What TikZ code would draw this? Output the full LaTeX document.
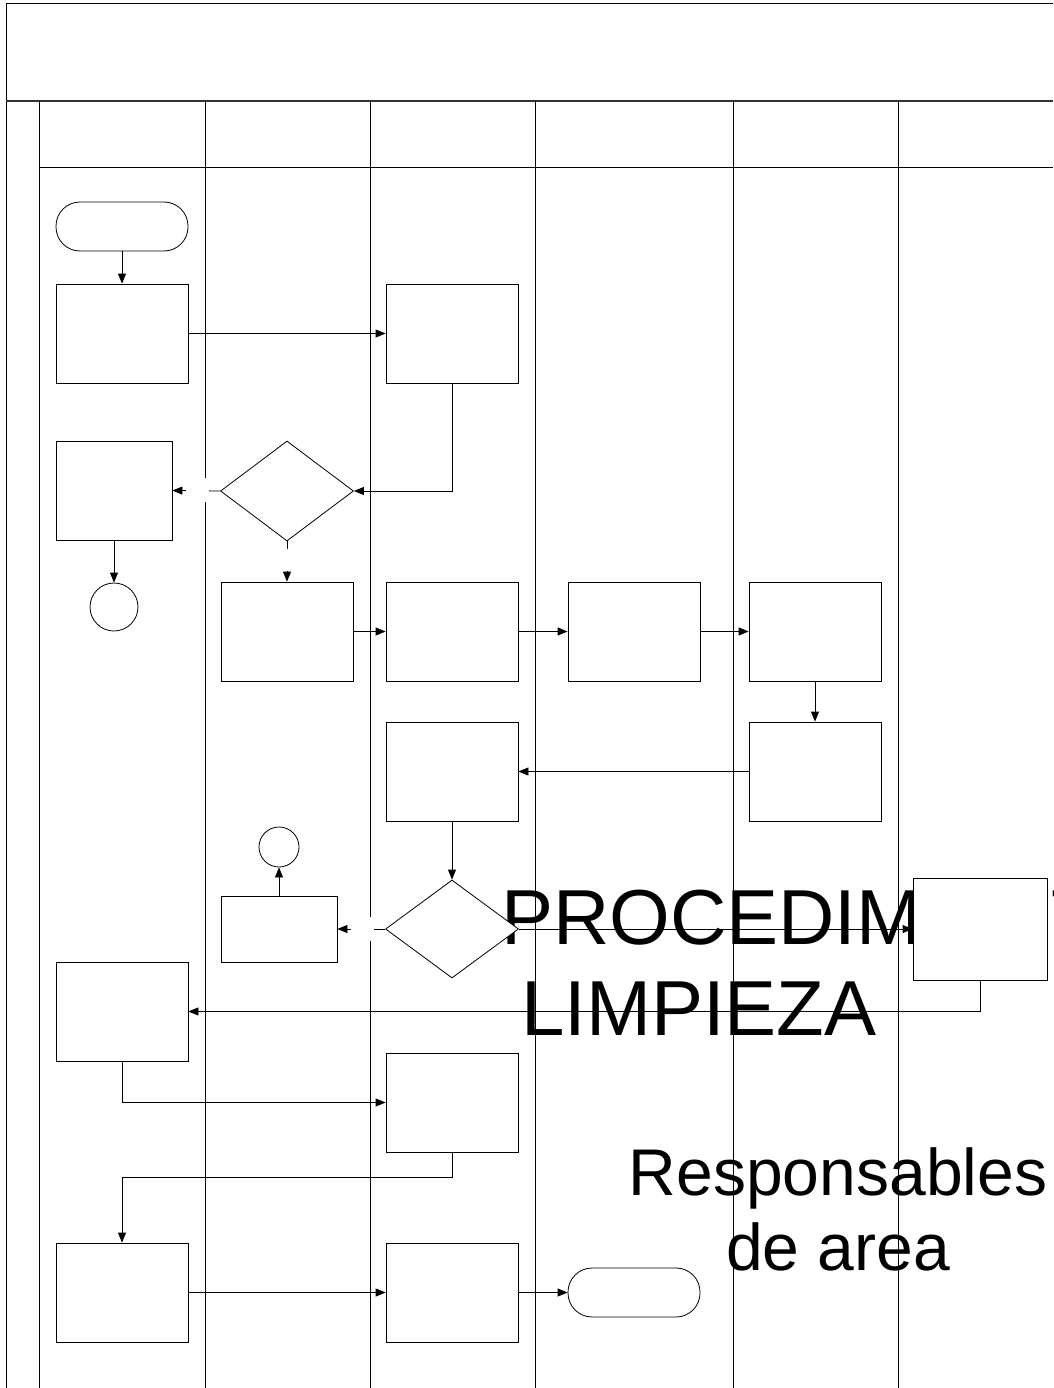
\documentclass[tikz,border=0pt]{standalone}
\usepackage{fontspec}
\setmainfont{Liberation Sans}
\usetikzlibrary{shapes.geometric,arrows.meta}
\begin{document}
\begin{tikzpicture}[x=1pt,y=-1pt,
  lane/.style={line width=1pt,black},
  proc/.style={draw,fill=white,line width=0.8pt,minimum width=132pt,minimum height=99pt,inner sep=0pt},
  sproc/.style={proc,minimum width=116pt},
  dec/.style={draw,fill=white,diamond,line width=0.8pt,minimum width=133pt,minimum height=100pt,inner sep=0pt},
  term/.style={draw,fill=white,line width=0.8pt,rounded corners=24pt,minimum width=132pt,minimum height=49pt,inner sep=0pt},
  conn/.style={draw,fill=white,circle,line width=0.8pt,inner sep=0pt},
  arr/.style={line width=0.8pt,-{Triangle[length=10pt,width=8pt]}},
  gap/.style={fill=white,draw=none},
  big/.style={inner sep=0pt,font=\fontsize{78}{94}\selectfont},
  mid/.style={inner sep=0pt,font=\fontsize{66}{79}\selectfont}]
\useasboundingbox (0,0) rectangle (1053,1388);
% frame and lanes
\draw[lane] (6,1388) -- (6,4) -- (1053,4);
\draw[line width=2.2pt,black!80] (6,101) -- (1053,101);
\draw[lane] (39,168) -- (1053,168);
\foreach \xx in {39,205,370,535,733,898} \draw[lane] (\xx,101) -- (\xx,1388);
% big texts
\node[big,anchor=base west] (t1) at (501,944) {PROCEDIMIENTO DE};
\node[big,anchor=base west] (t2) at (521,1035) {LIMPIEZA};
\node[mid,anchor=base] (t3) at (838,1195) {Responsables};
\node[mid,anchor=base] (t4) at (838,1270) {de area};
% nodes
\node[term] (start) at (122,226.5) {};
\node[proc] (A1) at (122,333.5) {};
\node[proc] (C1) at (452,333.5) {};
\node[sproc] (A2) at (114,490.5) {};
\node[dec] (D1) at (287,491) {};
\node[conn,minimum size=48pt] (CA) at (114,607) {};
\node[proc] (B1) at (287,631.5) {};
\node[proc] (C2) at (452,631.5) {};
\node[proc] (Dx) at (634,631.5) {};
\node[proc] (E1) at (815,631.5) {};
\node[proc] (E2) at (815,771.5) {};
\node[proc] (C3) at (452,771.5) {};
\node[conn,minimum size=40pt] (CB) at (279,847) {};
\node[sproc,minimum height=66pt] (B2) at (279,929) {};
\node[dec,minimum height=98pt] (D2) at (452,929) {};
\node[proc,minimum width=134pt,minimum height=102pt] (F1) at (980,929) {};
\node[proc] (A3) at (122,1011.5) {};
\node[proc] (C4) at (452,1102.5) {};
\node[proc] (A4) at (122,1292.5) {};
\node[proc] (C5) at (452,1292.5) {};
\node[term] (end) at (634,1292.5) {};
% connectors
\draw[arr] (start.south) -- (A1.north);
\draw[arr] (A1.east) -- (C1.west);
\draw[arr] (C1.south) |- (D1.east);
\draw[arr] (D1.west) -- (A2.east);
\draw[arr] (A2.south) -- (CA.north);
\draw[arr] (D1.south) -- (B1.north);
\draw[arr] (B1.east) -- (C2.west);
\draw[arr] (C2.east) -- (Dx.west);
\draw[arr] (Dx.east) -- (E1.west);
\draw[arr] (E1.south) -- (E2.north);
\draw[arr] (E2.west) -- (C3.east);
\draw[arr] (C3.south) -- (D2.north);
\draw[arr] (B2.north) -- (CB.south);
\draw[arr] (D2.west) -- (B2.east);
\draw[arr] (D2.east) -- (F1.west);
\draw[arr] (F1.south) |- (A3.east);
\draw[arr] (A3.south) |- (C4.west);
\draw[arr] (C4.south) -- ++(0,25) -| (A4.north);
\draw[arr] (A4.east) -- (C5.west);
\draw[arr] (C5.east) -- (end.west);
% redraw F1 on top of the text
\node[proc,minimum width=134pt,minimum height=102pt] at (F1) {};
% empty label gaps
\fill[gap] (186,478) rectangle (209,502);
\fill[gap] (277,549) rectangle (297,571);
\fill[gap] (351,917) rectangle (374,941);
\end{tikzpicture}
\end{document}
